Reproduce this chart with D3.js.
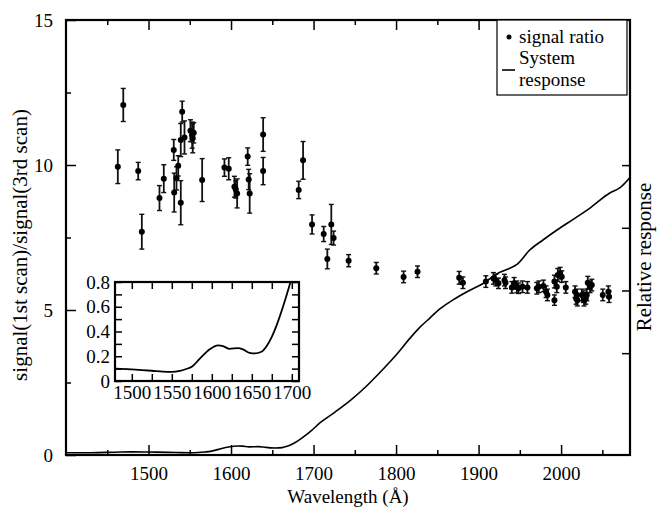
<!DOCTYPE html>
<html><head><meta charset="utf-8">
<script src="https://cdn.jsdelivr.net/npm/d3@7"></script>
</head>
<body style="margin:0">
<svg id="c" width="657" height="510" font-family="Liberation Serif"></svg>
<script>
// Signal ratio data (wavelength in Å, ratio, error)
const wavelengths = [1462.8,1469.4,1487.5,1491.9,1513.3,1518.5,1530.6,1531.1,1533.9,1536.0,1539.1,1539.1,1540.8,1543.6,1550.8,1552.9,1553.6,1554.8,1565.0,
1592.0,1597.2,1604.1,1605.7,1607.4,1620.2,1621.4,1622.6,1638.9,1638.9,1682.0,1687.3,1698.2,1712.3,1716.7,1721.5,1724.3,1742.5,1776.0,1809.1,1826.0,
1876.5,1881.0,1908.8,1918.0,1920.9,1924.1,1931.4,1932.6,1940.3,1943.1,1946.4,1948.3,1953.2,1959.2,1970.6,1973.0,1978.6,1981.8,1983.4,1991.9,
1991.9,1994.8,1996.0,1998.8,2000.8,2005.7,2016.9,2018.9,2018.2,2019.7,2025.1,2027.0,2027.8,2029.9,2031.1,2032.3,2035.1,2037.2,2050.5,2057.3,2058.1];
const ratios = [9.94,12.07,9.79,7.70,8.86,9.53,10.52,9.05,9.54,9.97,8.70,10.86,11.84,10.95,11.18,11.03,10.92,11.11,9.48,
9.91,9.87,9.25,9.16,9.02,10.29,9.50,9.02,11.05,9.79,9.14,10.16,7.95,7.62,6.76,7.95,7.48,6.70,6.44,6.14,6.32,
6.11,5.94,5.98,6.09,6.03,5.92,6.03,5.94,5.78,5.92,5.80,5.75,5.80,5.78,5.75,5.80,5.83,5.63,5.52,5.34,
5.98,5.80,6.21,6.27,6.15,5.78,5.63,5.52,5.40,5.34,5.52,5.46,5.34,5.40,5.52,5.94,5.80,5.86,5.52,5.63,5.46];
const ratioErrors = [0.58,0.57,0.30,0.60,0.43,0.48,0.36,0.67,0.40,0.35,0.76,0.57,0.36,0.57,0.38,0.45,0.50,0.35,0.74,
0.30,0.38,0.36,0.30,0.50,0.30,0.35,0.68,0.58,0.47,0.30,0.65,0.33,0.26,0.34,0.69,0.24,0.21,0.20,0.20,0.20,
0.22,0.20,0.20,0.20,0.20,0.18,0.20,0.20,0.20,0.20,0.20,0.18,0.20,0.20,0.20,0.20,0.20,0.20,0.20,0.18,
0.22,0.20,0.22,0.20,0.20,0.20,0.20,0.20,0.20,0.20,0.20,0.20,0.20,0.20,0.20,0.22,0.20,0.20,0.20,0.20,0.20];

// System response curve
const respWavelengths = [1400,1430,1460,1480,1500,1525,1539,1550,1560,1568,1575,1585,1597,1608,1614,1622,1633,1639,1647,1654,
1662,1668,1675,1681,1689,1697,1708,1726,1745,1763,1781,1799,1817,1829,1841,1853,1869,1886,1906,1922,
1935,1947,1962,1978,1995,2017,2035,2059,2071,2084];
const respValues = [0.07,0.073,0.09,0.10,0.094,0.083,0.075,0.073,0.081,0.097,0.115,0.18,0.255,0.288,0.282,0.26,0.266,0.255,0.228,0.223,
0.236,0.277,0.357,0.45,0.60,0.77,1.03,1.37,1.75,2.17,2.65,3.16,3.73,4.08,4.37,4.66,4.95,5.21,5.48,5.78,
5.93,6.09,6.54,6.86,7.18,7.56,7.88,8.36,8.52,8.87];

// Tick values
const xMajorTicks = [1500,1600,1700,1800,1900,2000];
const xMinorTicks = [1450,1550,1650,1750,1850,1950,2050];
const yMajorTicks = [0,5,10,15];
const yMinorTicks = [2.5,7.5,12.5];
const rightTicks = [3.25,5.25,7.25,9.25];
const insetXTicks = [1500,1525,1550,1575,1600,1625,1650,1675,1700];
const insetXLabels = [1500,1550,1600,1650,1700];
const insetYTicks = [0,0.1,0.2,0.3,0.4,0.5,0.6,0.7,0.8];
const insetYLabels = [0,0.2,0.4,0.6,0.8];

const legendLabels = ["signal ratio","System","response"];

const svg = d3.select("#c");
function serif(sel){ return sel.attr("font-family","Liberation Serif").style("font-family",()=>'"Liberation Serif"'); }
const L=66,R=630,T=20,B=455;
const x = d3.scaleLinear().domain([1400,2083.5]).range([L,R]);
const y = d3.scaleLinear().domain([0,15]).range([B,T]);
const yR = d3.scaleLinear().domain([0,13.88]).range([B,T]);

svg.append("defs").append("clipPath").attr("id","mainclip")
  .append("rect").attr("x",L).attr("y",T).attr("width",R-L).attr("height",B-T);

// response curve
const respData = respWavelengths.map((w,i)=>({w,v:respValues[i]}));
svg.append("path").datum(respData)
  .attr("clip-path","url(#mainclip)")
  .attr("fill","none").attr("stroke","#000").attr("stroke-width",1.6)
  .attr("d",d3.line().x(d=>x(d.w)).y(d=>yR(d.v)).curve(d3.curveMonotoneX));

// error bars and points
const pts = wavelengths.map((w,i)=>({w,v:ratios[i],e:ratioErrors[i]}));
const eg = svg.append("g").attr("stroke","#111").attr("stroke-width",1.8);
pts.forEach(d=>{
  const cx=x(d.w), y1=y(d.v+d.e), y2=y(d.v-d.e);
  eg.append("line").attr("x1",cx).attr("x2",cx).attr("y1",y1).attr("y2",y2);
  eg.append("line").attr("x1",cx-2.5).attr("x2",cx+2.5).attr("y1",y1).attr("y2",y1).attr("stroke-width",1.4);
  eg.append("line").attr("x1",cx-2.5).attr("x2",cx+2.5).attr("y1",y2).attr("y2",y2).attr("stroke-width",1.4);
});
svg.append("g").selectAll("circle").data(pts).join("circle")
  .attr("cx",d=>x(d.w)).attr("cy",d=>y(d.v)).attr("r",3).attr("fill","#000");

// axes
function styleAxis(g){
  g.attr("font-family","Liberation Serif");
  g.select(".domain").remove();
  g.selectAll("line").attr("stroke","#000").attr("stroke-width",1.5);
  serif(g.selectAll("text")).attr("fill","#000");
}
const fs=19;
svg.append("g").attr("transform",`translate(0,${B})`)
  .call(d3.axisBottom(x).tickValues(xMajorTicks).tickSize(-10).tickPadding(12).tickFormat(d3.format("d")))
  .call(styleAxis).call(g=>g.selectAll("text").attr("font-size",fs));
svg.append("g").attr("transform",`translate(0,${B})`)
  .call(d3.axisBottom(x).tickValues(xMinorTicks).tickSize(-5).tickFormat("")).call(styleAxis);
svg.append("g").attr("transform",`translate(0,${T})`)
  .call(d3.axisTop(x).tickValues(xMajorTicks).tickSize(-10).tickFormat("")).call(styleAxis);
svg.append("g").attr("transform",`translate(0,${T})`)
  .call(d3.axisTop(x).tickValues(xMinorTicks).tickSize(-5).tickFormat("")).call(styleAxis);
svg.append("g").attr("transform",`translate(${L},0)`)
  .call(d3.axisLeft(y).tickValues(yMajorTicks).tickSize(-10).tickPadding(13).tickFormat(d3.format("d")))
  .call(styleAxis).call(g=>g.selectAll("text").attr("font-size",fs));
svg.append("g").attr("transform",`translate(${L},0)`)
  .call(d3.axisLeft(y).tickValues(yMinorTicks).tickSize(-5).tickFormat("")).call(styleAxis);
svg.append("g").attr("transform",`translate(${R},0)`)
  .call(d3.axisRight(yR).tickValues(rightTicks).tickSize(-8).tickFormat("")).call(styleAxis);

// frame
svg.append("rect").attr("x",L).attr("y",T).attr("width",R-L).attr("height",B-T)
  .attr("fill","none").attr("stroke","#000").attr("stroke-width",2.2);

// axis titles
serif(svg.append("text")).attr("x",(L+R)/2).attr("y",503).attr("text-anchor","middle")
  .attr("font-size",19).text("Wavelength (Å)");
serif(svg.append("text")).attr("transform","translate(27,245) rotate(-90)").attr("text-anchor","middle")
  .attr("font-size",21).text("signal(1st scan)/signal(3rd scan)");
serif(svg.append("text")).attr("transform","translate(651,257) rotate(-90)").attr("text-anchor","middle")
  .attr("font-size",21).text("Relative response");

// legend
const lg = svg.append("g");
lg.append("rect").attr("x",497).attr("y",T).attr("width",130).attr("height",75)
  .attr("fill","#fff").attr("stroke","#000").attr("stroke-width",1.2);
lg.append("circle").attr("cx",509).attr("cy",37).attr("r",2.5).attr("fill","#000");
lg.append("line").attr("x1",502).attr("x2",515).attr("y1",70).attr("y2",70).attr("stroke","#000").attr("stroke-width",1.6);
serif(lg.selectAll("text.lg").data(legendLabels).join("text").attr("class","lg"))
  .attr("x",519).attr("y",(d,i)=>[43,64,86][i])
  .attr("font-size",19).text(d=>d);

// inset
const IL=115,IR=299,IT=282,IB=381;
const xi = d3.scaleLinear().domain([1479,1709]).range([IL,IR]);
const yi = d3.scaleLinear().domain([0,0.8]).range([IB,IT]);
svg.append("rect").attr("x",IL).attr("y",IT).attr("width",IR-IL).attr("height",IB-IT).attr("fill","#fff");
svg.select("defs").append("clipPath").attr("id","insetclip")
  .append("rect").attr("x",IL).attr("y",IT).attr("width",IR-IL).attr("height",IB-IT);
svg.append("path").datum(respData)
  .attr("clip-path","url(#insetclip)")
  .attr("fill","none").attr("stroke","#000").attr("stroke-width",1.8)
  .attr("d",d3.line().x(d=>xi(d.w)).y(d=>yi(d.v)).curve(d3.curveMonotoneX));
const ifs=19;
svg.append("g").attr("transform",`translate(0,${IB})`)
  .call(d3.axisBottom(xi).tickValues(insetXTicks).tickSize(-7).tickPadding(5)
    .tickFormat(d=>insetXLabels.includes(d)?String(d):""))
  .call(styleAxis).call(g=>g.selectAll("text").attr("font-size",ifs));
svg.append("g").attr("transform",`translate(0,${IT})`)
  .call(d3.axisTop(xi).tickValues(insetXTicks).tickSize(-7).tickFormat("")).call(styleAxis);
svg.append("g").attr("transform",`translate(${IL},0)`)
  .call(d3.axisLeft(yi).tickValues(insetYTicks).tickSize(-7).tickPadding(5)
    .tickFormat(d=>insetYLabels.some(v=>Math.abs(v-d)<1e-9)?(d===0?"0":d.toFixed(1)):""))
  .call(styleAxis).call(g=>g.selectAll("text").attr("font-size",ifs));
svg.append("g").attr("transform",`translate(${IR},0)`)
  .call(d3.axisRight(yi).tickValues(insetYTicks).tickSize(-7).tickFormat("")).call(styleAxis);
svg.append("rect").attr("x",IL).attr("y",IT).attr("width",IR-IL).attr("height",IB-IT)
  .attr("fill","none").attr("stroke","#000").attr("stroke-width",2.2);
</script></body></html>
